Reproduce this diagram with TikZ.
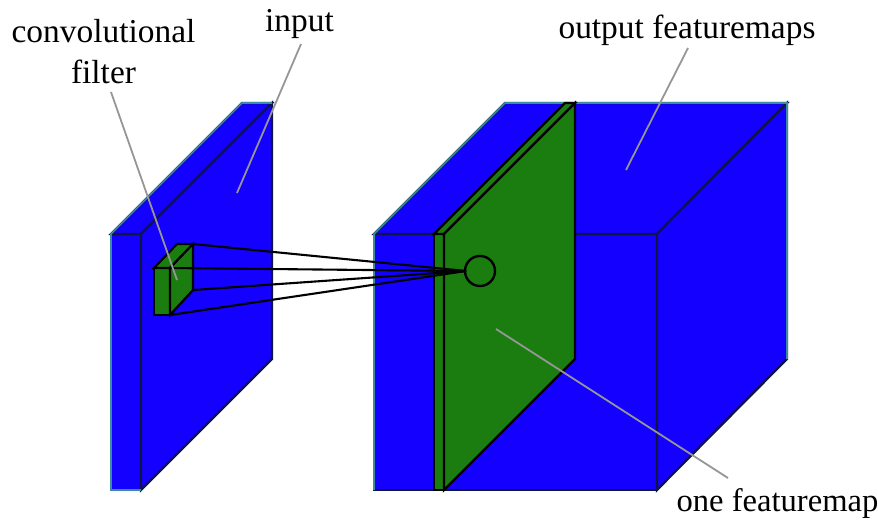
\documentclass[tikz,border=0pt]{standalone}
\usepackage{fontspec}
\setmainfont{Liberation Serif}
\definecolor{fblue}{RGB}{20,0,255}
\definecolor{fgreen}{RGB}{27,125,15}
\definecolor{fteal}{RGB}{60,140,160}
\definecolor{fedge}{RGB}{15,20,70}
\definecolor{lead}{RGB}{150,150,150}
\tikzset{
  bluefill/.style={fill=fblue,draw=fedge,line width=2.2pt,line join=miter},
  outline/.style={draw=fteal,line width=1.6pt,line join=miter},
  greenface/.style={fill=fgreen,draw=black,line width=2.2pt,line join=miter},
  ray/.style={draw=black,line width=2.1pt},
  leader/.style={draw=lead,line width=1.8pt},
  lab/.style={font=\fontsize{33.4}{41}\selectfont,inner sep=0pt,align=center,text=black}
}
\begin{document}
\begin{tikzpicture}[x=1pt,y=-1pt]
\useasboundingbox (0,0) rectangle (878,520);
% input block
\path[bluefill] (111,234) -- (141,234) -- (141,490) -- (111,490) -- cycle;
\path[bluefill] (111,234) -- (242,103) -- (272,103) -- (141,234) -- cycle;
\path[bluefill] (141,234) -- (272,103) -- (272,359) -- (141,490) -- cycle;
\path[outline] (141,490) -- (111,490) -- (111,234) -- (242,103) -- (272,103);
% output block
\path[bluefill] (374,234) -- (657,234) -- (657,490) -- (374,490) -- cycle;
\path[bluefill] (374,234) -- (505,103) -- (787,103) -- (657,234) -- cycle;
\path[bluefill] (657,234) -- (787,103) -- (787,359) -- (657,490) -- cycle;
\path[outline] (374,490) -- (374,234) -- (505,103) -- (787,103) -- (787,359);
% one feature map
\path[greenface] (434,234) -- (444,234) -- (444,490) -- (434,490) -- cycle;
\path[greenface] (434,234) -- (565,103) -- (575,103) -- (444,234) -- cycle;
\path[greenface] (444,234) -- (575,103) -- (575,359) -- (444,490) -- cycle;
% filter
\path[greenface] (154,268) -- (170,268) -- (170,315) -- (154,315) -- cycle;
\path[greenface] (154,268) -- (177,244) -- (193,244) -- (170,268) -- cycle;
\path[greenface] (170,268) -- (193,244) -- (193,290) -- (170,315) -- cycle;
% rays
\coordinate (f1) at (193,244);
\coordinate (f2) at (170,268);
\coordinate (f3) at (193,290);
\coordinate (f4) at (170,315);
\coordinate (apex) at (466,271);
\foreach \c in {f1,f2,f3,f4} \path[ray] (\c) -- (apex);
\node[circle,draw=black,line width=2.4pt,minimum size=30pt,inner sep=0pt] (unit) at (480,271) {};
% labels
\node[lab] (lconv) at (103.5,51.5) {convolutional\\filter};
\node[lab] (linput) at (299.5,23.5) {input};
\node[lab] (loutput) at (687,30) {output featuremaps};
\node[lab,font=\fontsize{32.6}{36}\selectfont] (lone) at (777.5,503) {one featuremap};
% leaders
\coordinate (a1) at (111,92);  \coordinate (b1) at (177,280);
\coordinate (a2) at (301,44);  \coordinate (b2) at (237,193);
\coordinate (a3) at (688,48);  \coordinate (b3) at (626,170);
\coordinate (a4) at (728,478); \coordinate (b4) at (496,329);
\path[leader] (a1) -- (b1);
\path[leader] (a2) -- (b2);
\path[leader] (a3) -- (b3);
\path[leader] (a4) -- (b4);
\end{tikzpicture}
\end{document}
